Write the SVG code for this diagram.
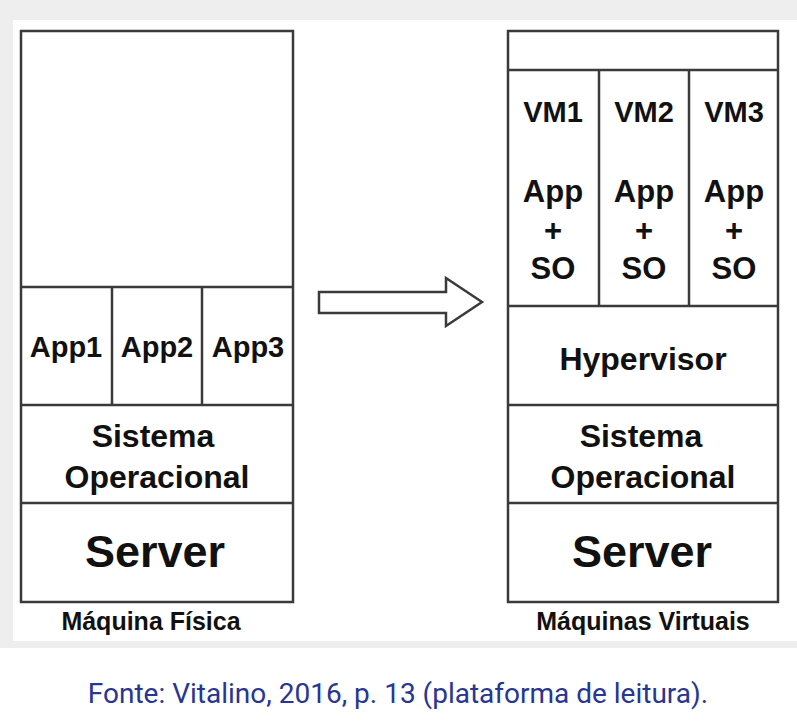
<svg xmlns="http://www.w3.org/2000/svg" width="797" height="728" viewBox="0 0 797 728">
<style>
.bx{fill:#fff;stroke:#3a3a3a;stroke-width:2.5}
.ln{stroke:#3a3a3a;stroke-width:2.5;fill:none}
.t{font-family:"Liberation Sans",Arial,Helvetica,sans-serif;font-weight:bold;fill:#111;text-anchor:middle}
.m{font-size:32px}
.p{font-size:31px}
.a{font-size:29px}
.s{font-size:45px}
.l{font-size:25px}
.cap{font-family:Roboto,"Noto Sans",sans-serif;font-size:28px;fill:#283593;text-anchor:middle}
</style>
<rect x="0" y="0" width="797" height="728" fill="#fff"/>
<rect x="0" y="0" width="797" height="20" fill="#eeeeee"/>
<rect x="0" y="20" width="13" height="621" fill="#eeeeee"/>
<rect x="0" y="641" width="797" height="7" fill="#eeeeee"/>

<g id="maquina-fisica">
<rect class="bx" x="21" y="31" width="272" height="571"/>
<line class="ln" x1="21" y1="287" x2="293" y2="287"/>
<line class="ln" x1="21" y1="405" x2="293" y2="405"/>
<line class="ln" x1="21" y1="503" x2="293" y2="503"/>
<line class="ln" x1="112" y1="287" x2="112" y2="405"/>
<line class="ln" x1="202" y1="287" x2="202" y2="405"/>
<text class="t a" x="66" y="357">App1</text>
<text class="t a" x="157" y="357">App2</text>
<text class="t a" x="248" y="357">App3</text>
<text class="t m" x="153" y="447">Sistema</text>
<text class="t m" x="157" y="488">Operacional</text>
<text class="t s" x="155" y="567">Server</text>
<text class="t l" x="151" y="630">Máquina Física</text>
</g>

<g id="connectors">
<path class="ln" d="M319,292 L446,292 L446,278 L482,302 L446,326 L446,313 L319,313 Z" fill="#fff"/>
</g>

<g id="maquinas-virtuais">
<rect class="bx" x="508" y="31" width="270" height="571"/>
<line class="ln" x1="508" y1="70" x2="778" y2="70"/>
<line class="ln" x1="508" y1="306" x2="778" y2="306"/>
<line class="ln" x1="508" y1="405" x2="778" y2="405"/>
<line class="ln" x1="508" y1="503" x2="778" y2="503"/>
<line class="ln" x1="599" y1="70" x2="599" y2="306"/>
<line class="ln" x1="689" y1="70" x2="689" y2="306"/>
<text class="t a" x="553" y="122">VM1</text>
<text class="t a" x="644" y="122">VM2</text>
<text class="t a" x="734" y="122">VM3</text>
<text class="t p" x="553" y="202">App</text>
<text class="t p" x="644" y="202">App</text>
<text class="t p" x="734" y="202">App</text>
<text class="t p" x="553" y="241">+</text>
<text class="t p" x="644" y="241">+</text>
<text class="t p" x="734" y="241">+</text>
<text class="t p" x="553" y="279">SO</text>
<text class="t p" x="644" y="279">SO</text>
<text class="t p" x="734" y="279">SO</text>
<text class="t m" x="643" y="370">Hypervisor</text>
<text class="t m" x="641" y="447">Sistema</text>
<text class="t m" x="643" y="488">Operacional</text>
<text class="t s" x="642" y="567">Server</text>
<text class="t l" x="643" y="630">Máquinas Virtuais</text>
</g>

<text class="cap" x="398" y="703">Fonte: Vitalino, 2016, p. 13 (plataforma de leitura).</text>
</svg>
